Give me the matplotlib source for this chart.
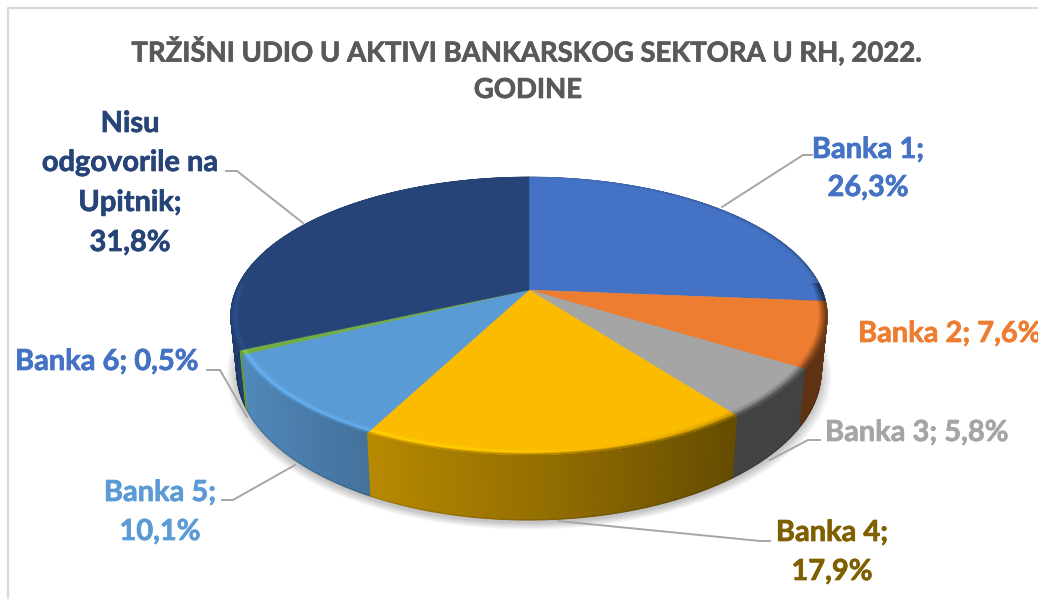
import numpy as np
import matplotlib
matplotlib.use('Agg')
import matplotlib.pyplot as plt
import matplotlib.patheffects as pe
from matplotlib.collections import PolyCollection
from matplotlib.colors import to_rgb

names = ['Banka 1', 'Banka 2', 'Banka 3', 'Banka 4', 'Banka 5', 'Banka 6', 'Nisu odgovorile na Upitnik']
shares = [26.3, 7.6, 5.8, 17.9, 10.1, 0.5, 31.8]
colors = ['#4472C4', '#ED7D31', '#A5A5A5', '#FBBC00', '#5B9BD5', '#70AD47', '#264478']
label_colors = ['#4472C4', '#ED7D31', '#A5A5A5', '#7F6000', '#5B9BD5', '#4472C4', '#264478']
title = 'TRŽIŠNI UDIO U AKTIVI BANKARSKOG SEKTORA U RH, 2022.\nGODINE'

CX, CY = 529, 290
RX, RY = 293, 134
PERSP = 0.187
DEPTH = 53


def project(theta, r=1.0, drop=0.0):
    """Unit disc to screen, theta clockwise from north, drop 0..1 goes to the lower ring."""
    x = r*np.sin(theta)
    y = r*np.cos(theta)
    w = 1 + PERSP*y
    shrink = 1 - 0.02*drop
    return CX + shrink*RX*x/w, CY - RY*y/w + drop*DEPTH/w


def wall_shade(x):
    return np.interp(x, [-1, -0.55, 0.0, 0.6, 1], [0.92, 0.76, 0.60, 0.40, 0.40])


def rim_shade(x):
    return np.interp(x, [-1, -0.2, 0.35, 0.7, 1], [1.18, 1.12, 0.95, 0.72, 0.62])


def scaled(rgb, f):
    return tuple(np.clip(np.array(rgb)*f, 0, 1))


plt.rcParams['font.family'] = ['Lato', 'DejaVu Sans']
fig = plt.figure(figsize=(10.38, 5.99), dpi=100)
ax = fig.add_axes([0, 0, 1, 1])
ax.set_xlim(0, 1038)
ax.set_ylim(599, 0)
ax.axis('off')

# chart frame, cut by the screenshot on the right and at the bottom
ax.plot([7.5, 7.5, 1040], [610, 8, 8], color='#D9D9D9', lw=1.6, clip_on=False)

# soft shadow under the pie
ring = np.linspace(0, 2*np.pi, 300)
for grow in np.linspace(1.035, 1.0, 10):
    sx, sy = project(ring, 1.0, 1.0)
    sx = CX + (sx - CX)*grow
    sy = 332 + (sy + 3 - 332)*grow
    ax.fill(sx, sy, color='#000000', alpha=0.022, lw=0)

edges = np.cumsum([0] + shares)/100*2*np.pi
slices = []
for i in range(len(shares)):
    n = max(int((edges[i+1] - edges[i])*120), 4)
    slices.append(np.linspace(edges[i], edges[i+1], n+1))

# outer wall, back to front, with a left to right gradient
polys, fills, depths = [], [], []
for i, th in enumerate(slices):
    rgb = to_rgb(colors[i])
    for a, b in zip(th[:-1], th[1:]):
        xa, ya = project(a)
        xb, yb = project(b)
        xc, yc = project(b, 1.0, 1.0)
        xd, yd = project(a, 1.0, 1.0)
        polys.append([(xa, ya), (xb, yb), (xc, yc), (xd, yd)])
        fills.append(scaled(rgb, wall_shade(np.sin((a + b)/2))))
        depths.append(np.cos((a + b)/2))
order = np.argsort(depths)[::-1]
ax.add_collection(PolyCollection([polys[k] for k in order], facecolors=[fills[k] for k in order],
                                 edgecolors=[fills[k] for k in order], linewidths=0.6, zorder=1))

# dark line on the bottom edge of the wall
front = np.linspace(np.pi*0.6, np.pi*1.55, 200)
bx, by = project(front, 1.0, 1.0)
ax.plot(bx, by, color='#000000', alpha=0.12, lw=1.2, zorder=1.1)

# top faces
for i, th in enumerate(slices):
    tx, ty = project(th)
    ax.fill(np.r_[CX, tx], np.r_[CY, ty], color=colors[i], lw=0.3, zorder=1.2)

# bevel along the outer rim
bands = np.linspace(0, 1, 9)
polys, fills = [], []
for i, th in enumerate(slices):
    rgb = to_rgb(colors[i])
    for a, b in zip(th[:-1], th[1:]):
        xm = np.sin((a + b)/2)
        near = np.cos((a + b)/2) < 0.05
        for t0, t1 in zip(bands[:-1], bands[1:]):
            r0, r1 = 0.972 + 0.028*t0, 0.972 + 0.028*t1
            tm = (t0 + t1)/2
            if near:
                if tm < 0.6:
                    f = 1 + (rim_shade(xm) - 1)*tm/0.6
                else:
                    f = rim_shade(xm) + (wall_shade(xm) - rim_shade(xm))*(tm - 0.6)/0.4
            else:
                f = 1 - 0.3*max(xm, 0)*tm**4
            p0, p1 = project(a, r0), project(b, r0)
            p2, p3 = project(b, r1), project(a, r1)
            polys.append([p0, p1, p2, p3])
            fills.append(scaled(rgb, f))
ax.add_collection(PolyCollection(polys, facecolors=fills, edgecolors=fills, linewidths=0.3, zorder=1.3))

# leader lines
leaders_x = [[722, 803, 812], [226, 237, 303], [820, 808, 770], [770, 760, 558], [222, 233, 295], [207, 220, 247]]
leaders_y = [[207, 155, 155], [171, 171, 223], [440, 440, 460], [541, 541, 521], [500, 500, 465], [370, 370, 417]]
for lx, ly in zip(leaders_x, leaders_y):
    ax.plot(lx, ly, color='#A6A6A6', lw=1.4, solid_joinstyle='miter', zorder=1.5)

LABEL = 20.9
pct = [f'{v:.1f}%'.replace('.', ',') for v in shares]


def label(x, y, s, color, ha='center', size=LABEL):
    t = ax.text(x, y, s, color=color, ha=ha, va='center', fontweight='bold', fontsize=size, clip_on=True)
    t.set_path_effects([pe.withStroke(linewidth=0.5, foreground=color)])


label(868, 150, f'{names[0]};', label_colors[0])
label(868, 188, pct[0], label_colors[0])
label(858, 334, f'{names[1]}; {pct[1]}', label_colors[1], ha='left')
label(825, 433, f'{names[2]}; {pct[2]}', label_colors[2], ha='left')
label(832, 533, f'{names[3]};', label_colors[3])
label(832, 572, pct[3], label_colors[3])
label(160, 493, f'{names[4]};', label_colors[4])
label(160, 532, pct[4], label_colors[4])
label(15, 362, f'{names[5]}; {pct[5]}', label_colors[5], ha='left')
label(130, 124, 'Nisu', label_colors[6])
label(130, 163, 'odgovorile na', label_colors[6])
label(130, 203, 'Upitnik;', label_colors[6])
label(130, 243, pct[6], label_colors[6])

line1, line2 = title.split('\n')
label(527, 51, line1, '#595959', size=19.8)
label(528, 90, line2, '#595959', size=19.8)

fig.savefig('out.png', dpi=100, facecolor='white')
